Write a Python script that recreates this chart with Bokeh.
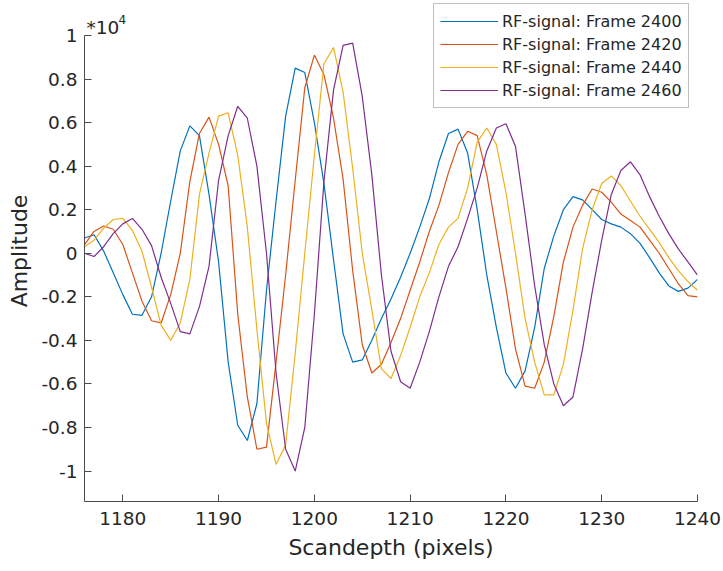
from bokeh.plotting import figure
from bokeh.models import Range1d, FixedTicker, Legend, LegendItem, Label
from bokeh.embed import file_html
from bokeh.resources import INLINE

# Scan depth (pixel index along the RF line)
scandepth = list(range(1176, 1241))

# RF amplitudes in units of 1e4, one list per frame
frame_2400 = [0.07, 0.085, 0.01, -0.09, -0.19, -0.28, -0.285, -0.20, 0.0, 0.24,
              0.47, 0.585, 0.54, 0.27, -0.04, -0.50, -0.79, -0.86, -0.69, -0.17,
              0.24, 0.63, 0.85, 0.83, 0.60, 0.32, -0.03, -0.37, -0.50, -0.49,
              -0.40, -0.30, -0.21, -0.11, 0.0, 0.12, 0.25, 0.42, 0.55, 0.57,
              0.46, 0.20, -0.10, -0.34, -0.55, -0.62, -0.54, -0.34, -0.07, 0.08,
              0.20, 0.26, 0.245, 0.20, 0.155, 0.135, 0.12, 0.09, 0.045, -0.02,
              -0.09, -0.15, -0.175, -0.16, -0.12]
frame_2420 = [0.04, 0.10, 0.125, 0.11, 0.04, -0.09, -0.22, -0.31, -0.32, -0.19,
              0.0, 0.33, 0.55, 0.625, 0.50, 0.31, -0.28, -0.66, -0.90, -0.89,
              -0.50, -0.10, 0.335, 0.76, 0.91, 0.82, 0.62, 0.34, -0.08, -0.42,
              -0.55, -0.51, -0.41, -0.30, -0.17, -0.04, 0.10, 0.22, 0.37, 0.50,
              0.56, 0.54, 0.36, 0.10, -0.16, -0.44, -0.61, -0.62, -0.50, -0.29,
              -0.04, 0.12, 0.22, 0.295, 0.28, 0.235, 0.18, 0.15, 0.12, 0.06,
              0.0, -0.07, -0.14, -0.195, -0.20]
frame_2440 = [0.03, 0.06, 0.115, 0.155, 0.16, 0.105, 0.01, -0.155, -0.33, -0.40,
              -0.32, -0.12, 0.27, 0.46, 0.63, 0.645, 0.45, 0.12, -0.35, -0.78,
              -0.97, -0.88, -0.46, 0.0, 0.45, 0.87, 0.945, 0.74, 0.39, 0.0,
              -0.26, -0.53, -0.575, -0.47, -0.34, -0.20, -0.09, 0.04, 0.12, 0.16,
              0.30, 0.51, 0.575, 0.50, 0.28, 0.0, -0.30, -0.50, -0.65, -0.65,
              -0.51, -0.26, 0.02, 0.20, 0.32, 0.355, 0.31, 0.24, 0.17, 0.11,
              0.05, -0.02, -0.08, -0.13, -0.17]
frame_2460 = [0.0, -0.015, 0.03, 0.09, 0.135, 0.16, 0.11, 0.035, -0.11, -0.23,
              -0.36, -0.37, -0.245, -0.06, 0.335, 0.54, 0.675, 0.62, 0.40, 0.0,
              -0.55, -0.90, -1.0, -0.80, -0.28, 0.33, 0.75, 0.955, 0.965, 0.72,
              0.36, -0.10, -0.45, -0.59, -0.62, -0.50, -0.36, -0.20, -0.06, 0.03,
              0.16, 0.30, 0.47, 0.575, 0.595, 0.49, 0.18, -0.15, -0.42, -0.60,
              -0.70, -0.66, -0.44, -0.18, 0.06, 0.27, 0.38, 0.42, 0.36, 0.26,
              0.17, 0.09, 0.02, -0.04, -0.10]

series_labels = ["RF-signal: Frame 2400", "RF-signal: Frame 2420",
                 "RF-signal: Frame 2440", "RF-signal: Frame 2460"]
series_colors = ["#0072BD", "#D95319", "#EDB120", "#7E2F8E"]

x_ticks = [1180, 1190, 1200, 1210, 1220, 1230, 1240]
y_ticks = [-1.0, -0.8, -0.6, -0.4, -0.2, 0.0, 0.2, 0.4, 0.6, 0.8, 1.0]
y_tick_labels = ["-1", "-0.8", "-0.6", "-0.4", "-0.2", "0", "0.2", "0.4", "0.6", "0.8", "1"]

Y_MIN, Y_MAX = -1.14, 1.0

FONT = "DejaVu Sans"
AXIS_COLOR = "#4a4a4a"
TEXT_COLOR = "#262626"

# the frame reaches the top edge so the legend and exponent are not clipped;
# the y axis itself is bounded to [Y_MIN, Y_MAX]
p = figure(width=723, height=571, output_backend="svg", toolbar_location=None,
           x_range=Range1d(1176, 1240), y_range=Range1d(Y_MIN, 1.1607),
           min_border_left=84, min_border_right=26, min_border_top=0,
           min_border_bottom=70)
p.outline_line_color = None
p.xgrid.visible = False
p.ygrid.visible = False
p.background_fill_color = "white"
p.border_fill_color = "white"

for ax in (p.xaxis[0], p.yaxis[0]):
    ax.axis_line_color = AXIS_COLOR
    ax.axis_line_width = 1
    ax.major_tick_line_color = AXIS_COLOR
    ax.major_tick_in = 7
    ax.major_tick_out = 0
    ax.minor_tick_line_color = None
    ax.major_label_text_font = FONT
    ax.major_label_text_font_size = "18.5px"
    ax.major_label_text_color = TEXT_COLOR
    ax.axis_label_text_font = FONT
    ax.axis_label_text_font_size = "22px"
    ax.axis_label_text_font_style = "normal"
    ax.axis_label_text_color = TEXT_COLOR

p.xaxis.ticker = FixedTicker(ticks=x_ticks)
p.xaxis.major_label_standoff = 10
p.xaxis.axis_label = "Scandepth (pixels)"
p.xaxis.axis_label_standoff = 7

p.yaxis.ticker = FixedTicker(ticks=y_ticks)
p.yaxis.bounds = (Y_MIN, Y_MAX)
p.yaxis.major_label_overrides = dict(zip(y_ticks, y_tick_labels))
p.yaxis.major_label_standoff = 7
p.yaxis.axis_label = "Amplitude"
p.yaxis.axis_label_standoff = 6

frames = [frame_2400, frame_2420, frame_2440, frame_2460]
items = []
for vals, lab, col in zip(frames, series_labels, series_colors):
    r = p.line(scandepth, vals, line_color=col, line_width=1.2)
    items.append(LegendItem(label=lab, renderers=[r]))

legend = Legend(items=items, location=(349, 393),
                label_text_font=FONT, label_text_font_size="16px",
                label_text_color=TEXT_COLOR,
                glyph_width=58, glyph_height=22, label_height=22,
                label_standoff=4, spacing=1, padding=6, margin=0,
                border_line_color="#808080", border_line_width=1,
                background_fill_color="white", background_fill_alpha=1.0)
p.add_layout(legend)

# exponent marker for the y axis
p.add_layout(Label(x=1176.2, y=1.037, text="*10", text_font=FONT,
                   text_font_size="18.5px", text_color=TEXT_COLOR,
                   text_baseline="alphabetic"))
p.add_layout(Label(x=1179.55, y=1.075, text="4", text_font=FONT,
                   text_font_size="12px", text_color=TEXT_COLOR,
                   text_baseline="alphabetic"))

open("out.html", "w").write(file_html(p, INLINE))
